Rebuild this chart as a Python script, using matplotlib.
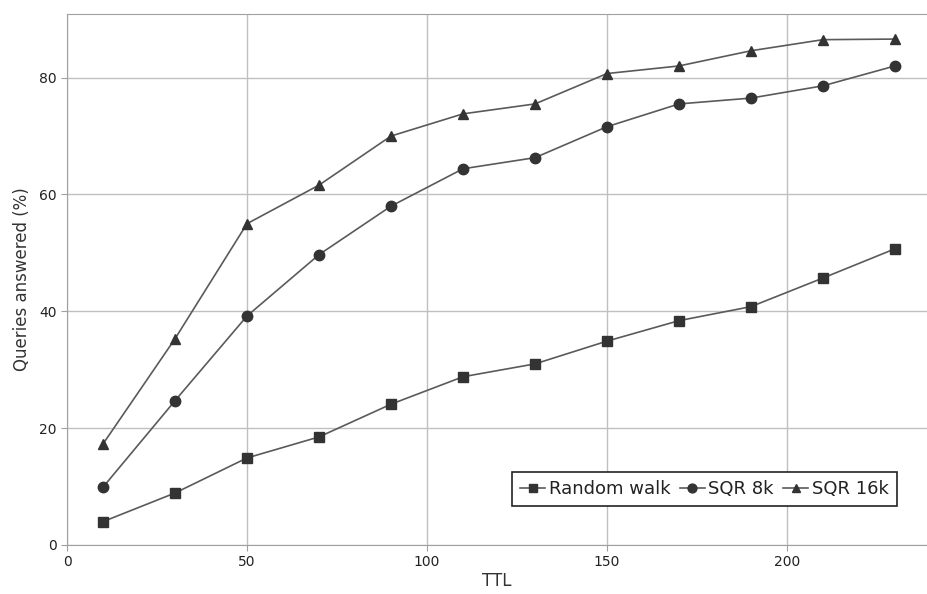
import matplotlib
matplotlib.use("Agg")
from matplotlib import pyplot as plt

# TTL values and percentage of queries answered
ttl = [10, 30, 50, 70, 90, 110, 130, 150, 170, 190, 210, 230]
random_walk = [4.0, 8.9, 14.9, 18.5, 24.1, 28.8, 31.0, 34.9, 38.4, 40.8, 45.7, 50.7]
sqr_8k = [9.9, 24.7, 39.2, 49.7, 58.0, 64.4, 66.3, 71.6, 75.5, 76.5, 78.6, 82.0]
sqr_16k = [17.3, 35.3, 55.0, 61.6, 70.0, 73.8, 75.5, 80.7, 82.0, 84.6, 86.5, 86.6]
x_ticks = [0, 50, 100, 150, 200]
y_ticks = [0, 20, 40, 60, 80]

line_col = '#5a5a5a'
mark_col = '#333333'
grid_col = '#c0c0c0'

fig = plt.figure(figsize=(9.27, 5.94), dpi=100)
ax = fig.add_axes([0.0723, 0.0825, 0.9277, 0.894])

series = [(random_walk, 's', 'Random walk', 7),
          (sqr_8k, 'o', 'SQR 8k', 7.5),
          (sqr_16k, '^', 'SQR 16k', 7.5)]
for vals, mk, name, ms in series:
    ax.plot(ttl, vals, color=line_col, lw=1.2, marker=mk, ms=ms,
            markerfacecolor=mark_col, markeredgecolor=mark_col, label=name)

ax.set_xlim(0, 238.9)
ax.set_ylim(0, 90.9)
ax.set_xticks(x_ticks)
ax.set_yticks(y_ticks)
ax.grid(True, color=grid_col, lw=1)
ax.set_axisbelow(True)

for side in ['left', 'bottom', 'top']:
    ax.spines[side].set_color('#a0a0a0')
ax.spines['right'].set_visible(False)
ax.tick_params(colors='#a0a0a0', length=4, labelcolor='#222222', labelsize=10)

ax.set_xlabel('TTL', fontsize=12, color='#333333', labelpad=2)
ax.set_ylabel('Queries answered (%)', fontsize=12, color='#333333', labelpad=6)

leg = ax.legend(loc='lower right', bbox_to_anchor=(0.965, 0.073), ncol=3,
                frameon=True, fancybox=False, fontsize=13, handlelength=1.4,
                handletextpad=0.2, columnspacing=0.5, borderpad=0.45,
                borderaxespad=0, markerscale=0.85)
leg.get_frame().set_edgecolor('#222222')
leg.get_frame().set_linewidth(1.2)
leg.get_frame().set_alpha(1)
for t in leg.get_texts():
    t.set_color('#222222')

fig.savefig('out.png', dpi=100)
